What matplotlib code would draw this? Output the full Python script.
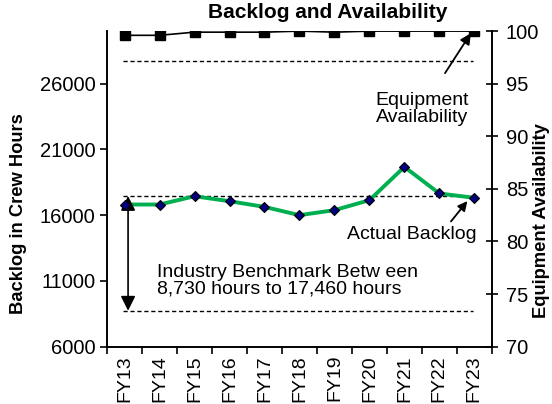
import matplotlib.pyplot as plt

plt.rcParams['font.family'] = ['Liberation Sans', 'DejaVu Sans']

years = ['FY13', 'FY14', 'FY15', 'FY16', 'FY17', 'FY18', 'FY19', 'FY20', 'FY21', 'FY22', 'FY23']
backlog = [16810, 16810, 17440, 17060, 16630, 16000, 16380, 17140, 19670, 17650, 17320]
availability = [99.6, 99.6, 99.9, 99.9, 99.9, 100.0, 99.9, 100.0, 100.0, 100.0, 100.0]
bench_low = 8730
bench_high = 17460
avail_target = 97.2

x = list(range(len(years)))

fig = plt.figure(figsize=(5.52, 4.04), dpi=100)
ax = fig.add_axes([0.194, 0.142, 0.697, 0.781])
ax2 = ax.twinx()

# backlog on left axis
ax.plot(x, backlog, color='#00B050', lw=2.8, zorder=3)
ax.plot(x, backlog, ls='none', marker='D', ms=5, mfc='#000080', mec='black', mew=0.8, zorder=4)
ax.hlines([bench_high, bench_low], -0.05, 9.95, colors='black', linestyles=(0, (3, 2)), lw=1)
ax.annotate('', xy=(0.1, bench_low), xytext=(0.1, bench_high),
            arrowprops=dict(arrowstyle='<|-|>', color='black', lw=1.2, mutation_scale=22,
                            shrinkA=0, shrinkB=0))
ax.text(0.93, 11000, 'Industry Benchmark Betw een\n8,730 hours to 17,460 hours',
        fontsize=14, va='center', ha='left', linespacing=0.95)
ax.annotate('Actual Backlog', xy=(9.8, backlog[-1] - 250), xytext=(10.07, 14500),
            fontsize=14, ha='right', va='center',
            arrowprops=dict(arrowstyle='-|>', color='black', lw=1.3, mutation_scale=14,
                            shrinkA=2, shrinkB=0, relpos=(0.77, 1.0)))

ax.set_xlim(-0.5, 10.5)
ax.set_ylim(6000, 30000)
ax.set_yticks([6000, 11000, 16000, 21000, 26000])
ax.set_xticks([i - 0.5 for i in range(12)], minor=False)
ax.set_xticklabels([])
ax.set_xticks(x, minor=True)
ax.set_xticklabels(years, minor=True, rotation=90, fontsize=14)
ax.tick_params(axis='x', which='minor', length=0, pad=6)
ax.tick_params(axis='x', which='major', length=5, direction='out', width=1.2)
ax.tick_params(axis='y', length=5, direction='out', width=1.2, labelsize=14.5)

# availability on right axis
ax2.plot(x, availability, color='black', lw=1.2, marker='s', ms=6.5, mfc='black', mec='black')
ax2.hlines(avail_target, -0.05, 9.95, colors='black', linestyles=(0, (3, 2)), lw=1)
ax2.annotate('Equipment\nAvailability', xy=(9.9, availability[-1] - 0.2), xytext=(8.5, 92.6),
             fontsize=14, ha='center', va='center', linespacing=0.95,
             arrowprops=dict(arrowstyle='-|>', color='black', lw=1.3, mutation_scale=16,
                             shrinkA=14, shrinkB=0))
ax2.set_ylim(70, 100)
ax2.set_yticks([70, 75, 80, 85, 90, 95, 100])
ax2.tick_params(axis='y', length=8, direction='inout', width=1.2, labelsize=14.5, pad=6)

for a in (ax, ax2):
    a.spines['top'].set_visible(False)
    for s in ('left', 'right', 'bottom'):
        a.spines[s].set_linewidth(1.2)

fig.text(19 / 552, 1 - 214 / 404, 'Backlog in Crew Hours', fontsize=13.2, fontweight='bold',
         rotation=90, ha='center', va='center')
fig.text(541 / 552, 1 - 221 / 404, 'Equipment Availability', fontsize=13.2, fontweight='bold',
         rotation=90, ha='center', va='center')
fig.text(0.593, 0.97, 'Backlog and Availability', fontsize=15, fontweight='bold',
         ha='center', va='center')

fig.savefig('out.png', dpi=100)
